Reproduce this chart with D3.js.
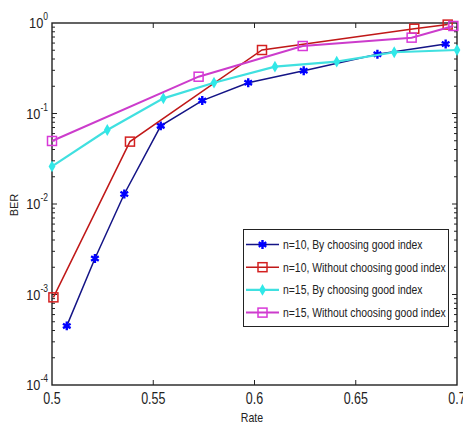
<!DOCTYPE html>
<html>
<head>
<meta charset="utf-8">
<title>BER vs Rate</title>
<style>
  body { margin: 0; background: #fff; }
  text { font-family: "Liberation Sans", Arial, sans-serif; fill: #222; }
</style>
<script src="https://cdnjs.cloudflare.com/ajax/libs/d3/7.8.5/d3.min.js"></script>
</head>
<body>
<div id="chart"></div>
<script>
// series
var rateBlue = [0.5073, 0.5212, 0.5357, 0.5537, 0.5742, 0.5969, 0.6243, 0.6607, 0.6944];
var berBlue  = [0.00045, 0.0025, 0.0129, 0.073, 0.139, 0.219, 0.297, 0.451, 0.586];
var rateRed  = [0.5007, 0.5385, 0.6037, 0.6789, 0.6954];
var berRed   = [0.00093, 0.0489, 0.503, 0.865, 0.96];
var rateCyan = [0.5, 0.5273, 0.555, 0.58, 0.6101, 0.6406, 0.669, 0.7];
var berCyan  = [0.026, 0.0657, 0.147, 0.219, 0.329, 0.374, 0.475, 0.503];
var rateMag  = [0.5, 0.5724, 0.6238, 0.6776, 0.6982];
var berMag   = [0.0497, 0.255, 0.557, 0.689, 0.927];

var legendNames = ['n=10, By choosing good index', 'n=10, Without choosing good index',
                   'n=15, By choosing good index', 'n=15, Without choosing good index'];
var xTicks = [0.5, 0.55, 0.6, 0.65, 0.7];
var xTickLabels = ['0.5', '0.55', '0.6', '0.65', '0.7'];
var yExps = [-4, -3, -2, -1, 0];

var series = [
  {x: rateBlue, y: berBlue, line: '#141486', color: '#0000ff', mark: 'star', lw: 1.5},
  {x: rateRed,  y: berRed,  line: '#c01818', color: '#d42020', mark: 'square', lw: 1.5},
  {x: rateCyan, y: berCyan, line: '#40e0e0', color: '#30e8e8', mark: 'diamond', lw: 2.2},
  {x: rateMag,  y: berMag,  line: '#cc3ccc', color: '#d838d8', mark: 'square', lw: 2}
];

var W = 463, H = 425;
var L = 52, R = 457, T = 23, B = 385;

var svg = d3.select('#chart').append('svg').attr('width', W).attr('height', H);

var x = d3.scaleLinear().domain([0.5, 0.7]).range([L, R]);
var y = d3.scaleLog().domain([1e-4, 1]).range([B, T]);

function label(g, tx, ty, sx) {
  return g.append('g').attr('transform', 'translate(' + tx + ',' + ty + ') scale(' + sx + ',1)')
          .append('text');
}

// ticks, pointing inward on all four sides
var axis = svg.append('g').attr('stroke', '#222').attr('stroke-width', 1);
xTicks.slice(1, -1).forEach(function(v) {
  axis.append('line').attr('x1', x(v)).attr('x2', x(v)).attr('y1', B).attr('y2', B - 5);
  axis.append('line').attr('x1', x(v)).attr('x2', x(v)).attr('y1', T).attr('y2', T + 5);
});
yExps.forEach(function(e) {
  var v = Math.pow(10, e);
  if (e > -4 && e < 0) {
    axis.append('line').attr('x1', L).attr('x2', L + 5).attr('y1', y(v)).attr('y2', y(v));
    axis.append('line').attr('x1', R).attr('x2', R - 5).attr('y1', y(v)).attr('y2', y(v));
  }
  if (e < 0) {
    for (var k = 2; k <= 9; k++) {
      var m = k * v;
      axis.append('line').attr('x1', L).attr('x2', L + 3).attr('y1', y(m)).attr('y2', y(m));
      axis.append('line').attr('x1', R).attr('x2', R - 3).attr('y1', y(m)).attr('y2', y(m));
    }
  }
});

// frame
svg.append('rect').attr('x', L).attr('y', T).attr('width', R - L).attr('height', B - T)
   .attr('fill', 'none').attr('stroke', '#222').attr('stroke-width', 1.4);

// tick labels
xTicks.forEach(function(v, i) {
  label(svg, x(v), 404, 0.78).attr('text-anchor', 'middle').style('font-size', '16px').text(xTickLabels[i]);
});
yExps.forEach(function(e) {
  var t = label(svg, 48, y(Math.pow(10, e)) + 5, 0.85).attr('text-anchor', 'end').style('font-size', '15px');
  t.append('tspan').text('10');
  t.append('tspan').attr('dy', -8).style('font-size', '10px').text(String(e));
});

label(svg, 252, 422, 0.88).attr('text-anchor', 'middle').style('font-size', '12px').text('Rate');
svg.append('text').attr('transform', 'translate(18,205) rotate(-90)')
   .attr('text-anchor', 'middle').style('font-size', '11px').text('BER');

// markers
function marker(g, s, px, py) {
  if (s.mark === 'square') {
    g.append('rect').attr('x', px - 4.5).attr('y', py - 4.5).attr('width', 9).attr('height', 9)
     .attr('fill', 'none').attr('stroke', s.color).attr('stroke-width', 1.5);
  } else if (s.mark === 'star') {
    g.append('path').attr('transform', 'translate(' + px + ',' + py + ')')
     .attr('d', d3.symbol().type(d3.symbolAsterisk).size(55)())
     .attr('fill', 'none').attr('stroke', s.color).attr('stroke-width', 2.4);
  } else {
    g.append('path').attr('transform', 'translate(' + px + ',' + py + ')')
     .attr('d', d3.symbol().type(d3.symbolDiamond).size(40)())
     .attr('fill', s.color);
    g.append('path').attr('transform', 'translate(' + px + ',' + py + ')')
     .attr('d', d3.symbol().type(d3.symbolPlus).size(70)())
     .attr('fill', s.color);
  }
}

var line = d3.line();
series.forEach(function(s) {
  var pts = s.x.map(function(v, i) { return [x(v), y(s.y[i])]; });
  svg.append('path').attr('d', line(pts)).attr('fill', 'none')
     .attr('stroke', s.line).attr('stroke-width', s.lw);
  var g = svg.append('g');
  pts.forEach(function(p) { marker(g, s, p[0], p[1]); });
});

// legend
var lg = svg.append('g');
lg.append('rect').attr('x', 243.5).attr('y', 229.5).attr('width', 205).attr('height', 97)
  .attr('fill', '#fff').attr('stroke', '#222').attr('stroke-width', 1);
series.forEach(function(s, i) {
  var ly = 244.5 + i * 22.7;
  lg.append('line').attr('x1', 246).attr('x2', 279).attr('y1', ly).attr('y2', ly)
    .attr('stroke', s.line).attr('stroke-width', s.lw);
  marker(lg, s, 262.5, ly);
  label(lg, 283, ly + 4.5, 0.8).style('font-size', '13px').text(legendNames[i]);
});
</script>
</body>
</html>
